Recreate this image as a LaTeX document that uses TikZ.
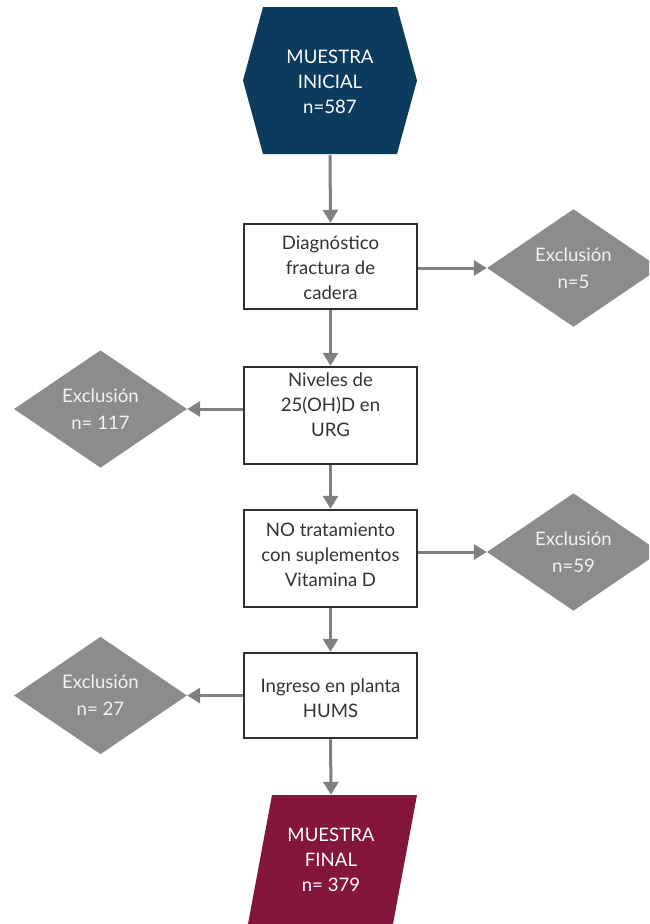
\documentclass[tikz,border=0pt]{standalone}
\usepackage{fontspec}
\setmainfont{Lato}
\usetikzlibrary{shapes.geometric,arrows.meta}
\definecolor{hexcol}{HTML}{0B3C5D}
\definecolor{fincol}{HTML}{85163B}
\definecolor{diacol}{HTML}{8C8C8C}
\definecolor{arrcol}{HTML}{808080}
\definecolor{boxline}{HTML}{2E2E2E}
\definecolor{boxtxt}{HTML}{333333}
\definecolor{lighttxt}{HTML}{F2F2F2}
\tikzset{
  txt/.style={font=\fontsize{18.6}{25}\selectfont, align=center, inner sep=0pt},
  stepbox/.style={draw=boxline, line width=2.5pt, fill=white, minimum width=173pt, inner sep=0pt},
  boxtext/.style={txt, text=boxtxt},
  excl/.style={diamond, fill=diacol, minimum width=173pt, minimum height=117pt, inner sep=0pt,
     text=lighttxt, font=\fontsize{18.6}{27}\selectfont, align=center},
  conn/.style={draw=arrcol, line width=3pt, -{Triangle[length=13pt,width=15pt]}},
}
\begin{document}
\begin{tikzpicture}[x=1pt,y=-1pt]
\clip (0,0) rectangle (649,924);
\fill[white] (0,0) rectangle (649,924);
% start hexagon
\fill[hexcol] (263,7) -- (397,7) -- (417,80.5) -- (397,154) -- (263,154) -- (243,80.5) -- cycle;
\node[txt, text=white, minimum width=174pt, minimum height=147pt] (hex) at (330,81.5) {MUESTRA\\INICIAL\\n=587};
% final parallelogram
\fill[fincol] (272,795) -- (417,795) -- (393,924) -- (248,924) -- cycle;
\node[txt, text=white, minimum width=140pt, minimum height=130pt] (fin) at (331,860) {MUESTRA\\FINAL\\n= 379};
% boxes
\node[stepbox, minimum height=85pt] (b1) at (330.5,266.5) {};
\node[boxtext] (b1t) at (330.5,268) {Diagnóstico\\fractura de\\cadera};
\node[stepbox, minimum height=97pt] (b2) at (330.5,415.5) {};
\node[boxtext] (b2t) at (330.5,405) {Niveles de\\25(OH)D en\\URG};
\node[stepbox, minimum height=97pt] (b3) at (330.5,558.5) {};
\node[boxtext] (b3t) at (330.5,555) {NO tratamiento\\con suplementos\\Vitamina D};
\node[stepbox, minimum height=85pt] (b4) at (330.5,695.5) {};
\node[boxtext] (b4t) at (330.5,698) {Ingreso en planta\\HUMS};
% exclusion diamonds
\node[excl] (d1) at (573.5,268) {Exclusión\\n=5};
\node[excl] (d2) at (100.5,409) {Exclusión\\n= 117};
\node[excl] (d3) at (573.5,552) {Exclusión\\n=59};
\node[excl] (d4) at (100.5,695.5) {Exclusión\\n= 27};
% vertical connectors
\draw[conn] (hex.south) -- (b1.north);
\draw[conn] (b1.south) -- (b2.north);
\draw[conn] (b2.south) -- (b3.north);
\draw[conn] (b3.south) -- (b4.north);
\draw[conn] (b4.south) -- (fin.north);
% horizontal connectors
\draw[conn] (b1.east |- d1.west) -- (d1.west);
\draw[conn] (b2.west |- d2.east) -- (d2.east);
\draw[conn] (b3.east |- d3.west) -- (d3.west);
\draw[conn] (b4.west |- d4.east) -- (d4.east);
\end{tikzpicture}
\end{document}
